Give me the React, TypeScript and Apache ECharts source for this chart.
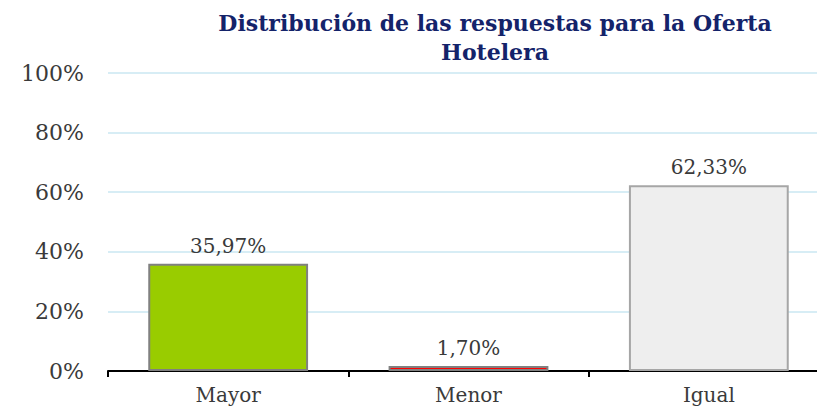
import React, { useEffect, useRef } from "react";
import * as echarts from "echarts";

const categories = ["Mayor", "Menor", "Igual"];
const values = [35.97, 1.7, 62.33];
const barColors = ["#99CC00", "#FF0000", "#EEEEEE"];
const borderColors = ["#808080", "#808080", "#A6A6A6"];
const titleText = "Distribución de las respuestas para la Oferta\nHotelera";

export default function App() {
  const ref = useRef<HTMLDivElement>(null);
  useEffect(() => {
    if (!ref.current) return;
    const chart = echarts.init(ref.current, null, { renderer: "svg" });
    const serif = "DejaVu Serif";
    chart.setOption({
      animation: false,
      backgroundColor: "#FFFFFF",
      title: {
        text: titleText,
        left: 490,
        top: 3,
        textAlign: "center",
        textStyle: {
          fontFamily: serif,
          fontWeight: "bold",
          fontSize: 22,
          lineHeight: 29,
          color: "#14236A",
        },
      },
      grid: { left: 108, right: 1, top: 73, bottom: 42, containLabel: false },
      xAxis: {
        type: "category",
        data: categories,
        axisLine: { lineStyle: { color: "#000000", width: 2 } },
        axisTick: { show: true, length: 6, lineStyle: { color: "#000000", width: 2 } },
        axisLabel: { fontFamily: serif, fontSize: 20, color: "#3A3A3A", margin: 14 },
      },
      yAxis: {
        type: "value",
        min: 0,
        max: 100,
        interval: 20,
        axisLine: { show: false },
        axisTick: { show: false },
        axisLabel: {
          formatter: "{value}%",
          fontFamily: serif,
          fontSize: 22,
          color: "#3A3A3A",
          margin: 24,
        },
        splitLine: { lineStyle: { color: "#D7EDF5", width: 2 } },
      },
      series: [
        {
          type: "bar",
          barWidth: "66.5%",
          data: values.map((v, i) => ({
            value: v,
            itemStyle: { color: barColors[i], borderColor: borderColors[i], borderWidth: 2 },
          })),
          label: {
            show: true,
            position: "top",
            distance: 8,
            fontFamily: serif,
            fontSize: 20,
            color: "#3A3A3A",
            formatter: (p: any) => p.value.toFixed(2).replace(".", ",") + "%",
          },
        },
      ],
    });
    return () => chart.dispose();
  }, []);
  return (
    <div style={{ position: "fixed", left: 0, top: 0, width: 817, height: 413, overflow: "hidden" }}>
      <div ref={ref} style={{ width: 830, height: 413 }} />
    </div>
  );
}
